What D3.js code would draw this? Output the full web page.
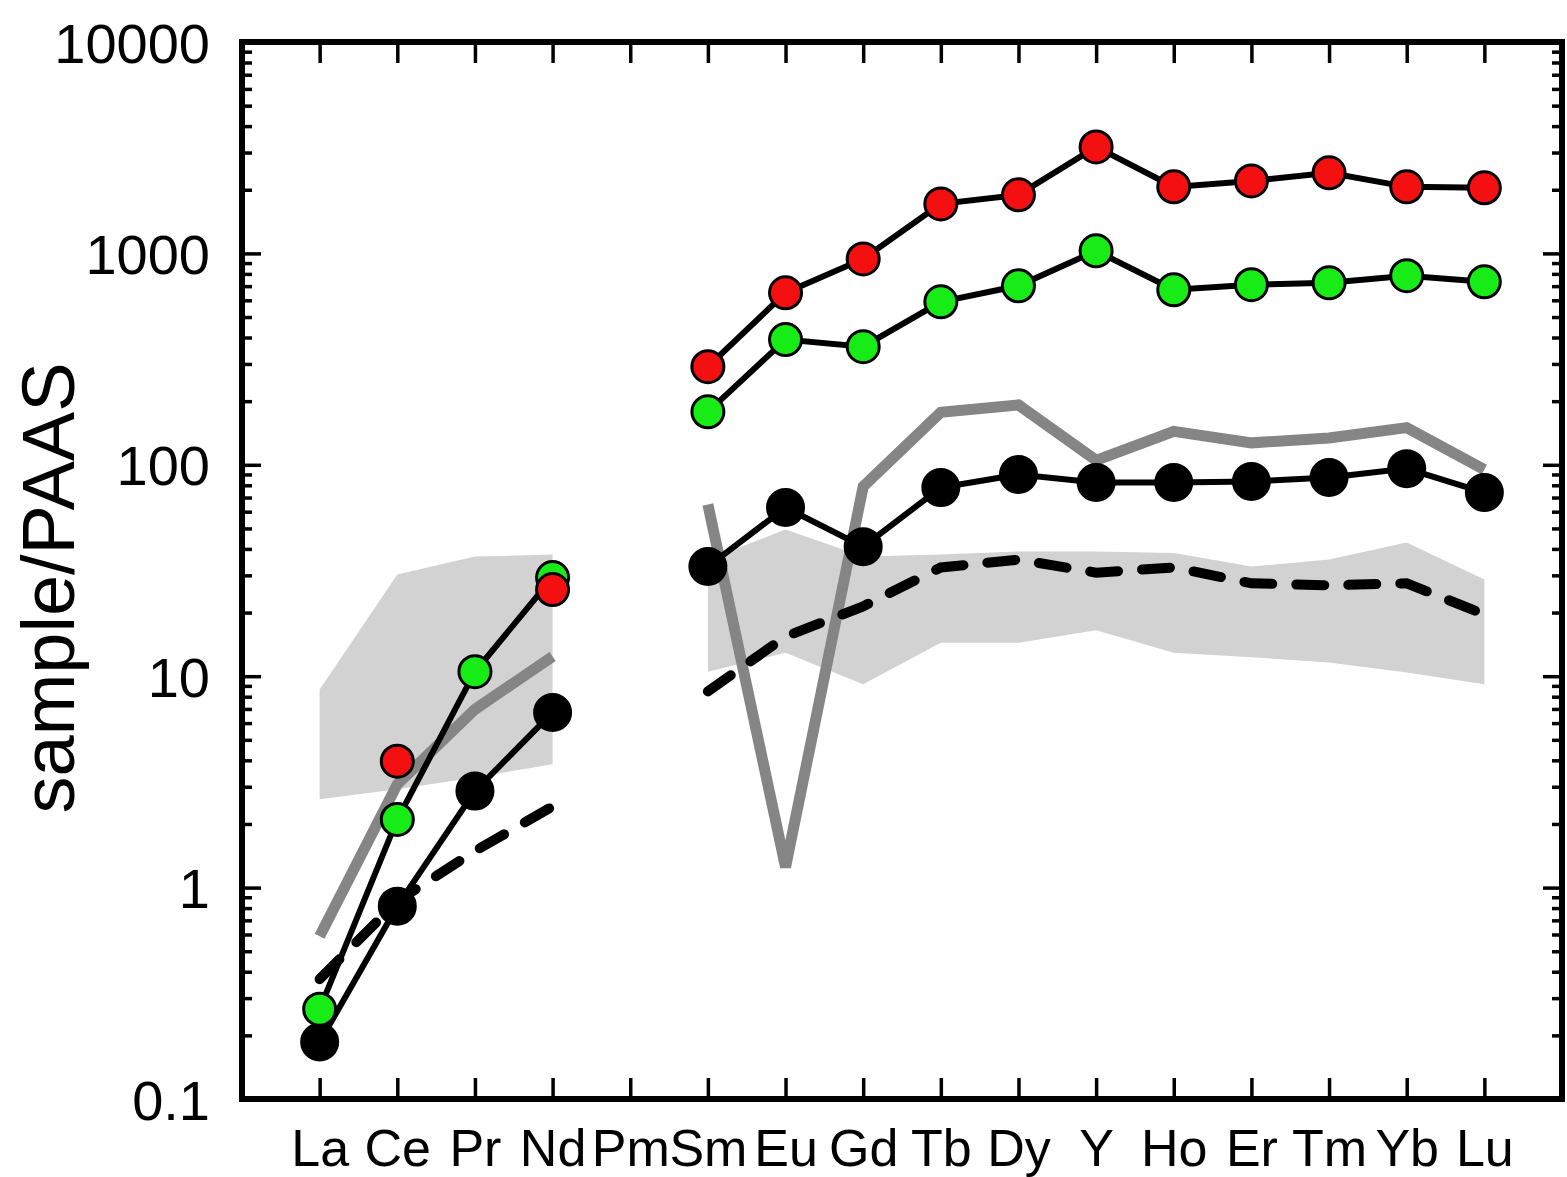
<!DOCTYPE html>
<html>
<head>
<meta charset="utf-8">
<script src="https://cdn.jsdelivr.net/npm/d3@7"></script>
<style>
  html, body { margin: 0; padding: 0; background: #fff; }
  svg { display: block; font-family: "Liberation Sans", Arial, Helvetica, sans-serif; }
</style>
</head>
<body>
<svg id="chart" width="1567" height="1177"></svg>
<script>
// ---------- data (sample / PAAS) ----------
const categories = ["La","Ce","Pr","Nd","Pm","Sm","Eu","Gd","Tb","Dy","Y","Ho","Er","Tm","Yb","Lu"];

const redSeries   = [null, 3.96, null, 25.7, null, 291, 651, 942, 1715, 1892, 3190, 2064, 2203, 2404, 2064, 2042];
const greenSeries = [0.266, 2.10, 10.5, 29.3, null, 178, 391, 362, 590, 703, 1028, 673, 711, 726, 784, 734];
const blackSeries = [0.186, 0.817, 2.86, 6.74, null, 33.0, 62.8, 41.0, 78.0, 89.9, 82.4, 82.4, 83.3, 87.0, 95.9, 73.9];
const grayLine    = [0.589, 3.08, 6.97, 12.4, null, 64.9, 1.25, 78.9, 177, 192, 105, 144, 127, 134, 150, 94.9];
const dashedLine  = [0.369, 0.863, 1.49, 2.42, null, 8.47, 15.4, 21.4, 32.7, 35.6, 30.9, 32.7, 27.5, 26.9, 27.5, 19.6];
const bandUpper   = [8.66, 30.3, 36.8, 37.6, null, 35.6, 49.4, 36.8, 37.6, 38.9, 38.9, 38.3, 33.0, 35.6, 42.9, 28.7];
const bandLower   = [2.62, 2.92, 3.32, 3.83, null, 10.5, 12.9, 9.15, 14.4, 14.4, 16.5, 12.9, 12.3, 11.6, 10.4, 9.15];

const yMajorTicks = [0.1, 1, 10, 100, 1000, 10000];
const yTickLabels = ["0.1", "1", "10", "100", "1000", "10000"];
const yAxisTitle = "sample/PAAS";

// ---------- layout ----------
const svg = d3.select("#chart");
const plot = { left: 242, right: 1562, top: 42, bottom: 1099 };

const x = d3.scaleLinear().domain([0, categories.length + 1]).range([plot.left, plot.right]);
const y = d3.scaleLog().domain([0.1, 10000]).range([plot.bottom, plot.top]);
const xi = i => x(i + 1);

const yMinorTicks = [];
for (let e = -1; e < 4; e++) for (let m = 2; m <= 9; m++) yMinorTicks.push(m * Math.pow(10, e));

const pts = arr => arr.map((v, i) => ({ i, v }));
const line = d3.line().defined(d => d.v != null).x(d => xi(d.i)).y(d => y(d.v));

// ---------- grey band ----------
const bandData = categories.map((c, i) => ({ i, lo: bandLower[i], hi: bandUpper[i] }));
const area = d3.area().defined(d => d.lo != null && d.hi != null)
  .x(d => xi(d.i)).y0(d => y(d.lo)).y1(d => y(d.hi));
svg.append("path").datum(bandData).attr("d", area).attr("fill", "#d2d2d2");

// ---------- grey thick line ----------
svg.append("path").datum(pts(grayLine)).attr("d", line)
  .attr("fill", "none").attr("stroke", "#858585").attr("stroke-width", 11)
  .attr("stroke-linejoin", "miter").attr("stroke-linecap", "butt");

// ---------- dashed line ----------
svg.append("path").datum(pts(dashedLine)).attr("d", line)
  .attr("fill", "none").attr("stroke", "#000").attr("stroke-width", 10)
  .attr("stroke-dasharray", "28,24").attr("stroke-linecap", "round");

// ---------- series with markers ----------
function drawSeries(arr, fill, r) {
  svg.append("path").datum(pts(arr)).attr("d", line)
    .attr("fill", "none").attr("stroke", "#000").attr("stroke-width", 6);
  svg.append("g").selectAll("circle").data(pts(arr).filter(d => d.v != null)).join("circle")
    .attr("cx", d => xi(d.i)).attr("cy", d => y(d.v)).attr("r", r)
    .attr("fill", fill).attr("stroke", "#000").attr("stroke-width", 3);
}
drawSeries(blackSeries, "#000", 18);
drawSeries(greenSeries, "#17ec17", 16);
drawSeries(redSeries, "#f41010", 16);

// ---------- axes ----------
const tickStyle = g => {
  g.select(".domain").remove();
  g.selectAll(".tick line").attr("stroke", "#000").attr("stroke-width", 3.5);
  g.selectAll(".tick text").attr("fill", "#000");
};

// left
svg.append("g").attr("transform", `translate(${plot.left},0)`)
  .call(d3.axisLeft(y).tickValues(yMajorTicks).tickSize(-19).tickSizeOuter(0).tickPadding(32)
    .tickFormat((d, i) => yTickLabels[i]))
  .call(tickStyle)
  .call(g => g.selectAll(".tick text").attr("font-size", 56).attr("dy", "0.36em"));
svg.append("g").attr("transform", `translate(${plot.left},0)`)
  .call(d3.axisLeft(y).tickValues(yMinorTicks).tickSize(-10).tickSizeOuter(0).tickFormat(""))
  .call(tickStyle);
// right
svg.append("g").attr("transform", `translate(${plot.right},0)`)
  .call(d3.axisRight(y).tickValues(yMajorTicks).tickSize(-19).tickSizeOuter(0).tickFormat(""))
  .call(tickStyle);
svg.append("g").attr("transform", `translate(${plot.right},0)`)
  .call(d3.axisRight(y).tickValues(yMinorTicks).tickSize(-10).tickSizeOuter(0).tickFormat(""))
  .call(tickStyle);
// bottom
svg.append("g").attr("transform", `translate(0,${plot.bottom})`)
  .call(d3.axisBottom(x).tickValues(categories.map((c, i) => i + 1)).tickSize(-21).tickSizeOuter(0)
    .tickPadding(30).tickFormat(d => categories[d - 1]))
  .call(tickStyle)
  .call(g => g.selectAll(".tick text").attr("font-size", 52));
// top
svg.append("g").attr("transform", `translate(0,${plot.top})`)
  .call(d3.axisTop(x).tickValues(categories.map((c, i) => i + 1)).tickSize(-21).tickSizeOuter(0).tickFormat(""))
  .call(tickStyle);

// frame
svg.append("rect").attr("x", plot.left).attr("y", plot.top)
  .attr("width", plot.right - plot.left).attr("height", plot.bottom - plot.top)
  .attr("fill", "none").attr("stroke", "#000").attr("stroke-width", 6);

// y title
svg.append("text")
  .attr("transform", `translate(74,588) rotate(-90)`)
  .attr("text-anchor", "middle").attr("font-size", 74).attr("fill", "#000")
  .text(yAxisTitle);
</script>
</body>
</html>
